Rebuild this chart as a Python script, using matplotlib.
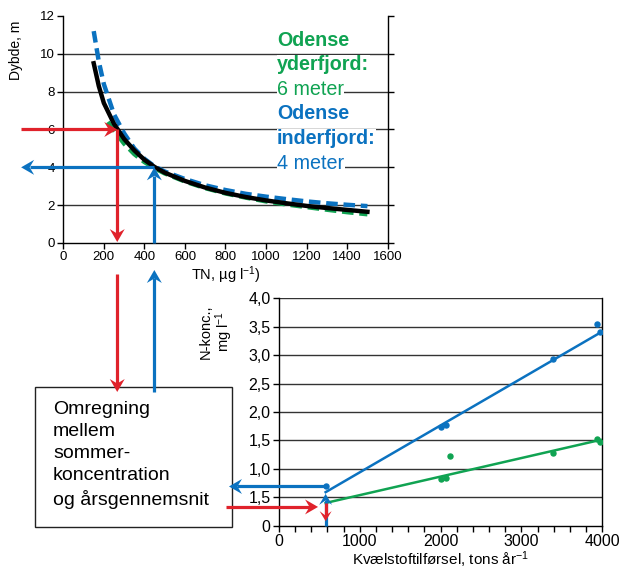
import numpy as np
import matplotlib
matplotlib.use("Agg")
import matplotlib.pyplot as plt
from matplotlib.patches import Rectangle, Polygon
from matplotlib.lines import Line2D
from matplotlib.transforms import IdentityTransform, blended_transform_factory

plt.rcParams['font.family'] = ['Liberation Sans', 'DejaVu Sans']
plt.rcParams['mathtext.fontset'] = 'custom'
plt.rcParams['mathtext.rm'] = 'Liberation Sans'
plt.rcParams['mathtext.it'] = 'Liberation Sans:italic'

RED = '#e0222b'
BLUE = '#0b72c0'
GREEN = '#10a352'

# --- Upper panel: depth vs. total nitrogen ---
tn_black = [150, 175, 200, 250, 300, 350, 400, 450, 500, 600, 700, 800, 900, 1000, 1100, 1200, 1300, 1400, 1500]
depth_black = [9.5, 8.3, 7.4, 6.3, 5.5, 4.9, 4.4, 4.02, 3.72, 3.28, 2.93, 2.65, 2.43, 2.25, 2.1, 1.96, 1.85, 1.75, 1.65]

tn_blue = [150, 175, 200, 250, 300, 350, 400, 450, 500, 600, 700, 800, 900, 1000, 1100, 1200, 1300, 1400, 1500]
depth_blue = [11.2, 9.6, 8.4, 6.8, 5.8, 5.0, 4.45, 4.05, 3.78, 3.38, 3.05, 2.8, 2.6, 2.45, 2.32, 2.2, 2.1, 2.02, 1.95]

tn_green = [220, 250, 300, 350, 400, 450, 500, 600, 700, 800, 900, 1000, 1100, 1200, 1300, 1400, 1500]
depth_green = [6.4, 5.95, 5.25, 4.7, 4.28, 3.95, 3.68, 3.25, 2.9, 2.62, 2.4, 2.2, 2.04, 1.9, 1.76, 1.63, 1.52]

outer_depth, inner_depth = 6, 4
outer_tn, inner_tn = 266, 449

# --- Lower panel: N concentration vs. nitrogen load ---
load_blue = [577, 2000, 2062, 3394, 3938, 3971]
conc_blue = [0.69, 1.74, 1.78, 2.93, 3.55, 3.40]
fit_blue_x = [577, 3980]
fit_blue_y = [0.59, 3.40]

load_green = [2000, 2062, 2111, 3394, 3938, 3971]
conc_green = [0.82, 0.84, 1.23, 1.28, 1.52, 1.47]
fit_green_x = [577, 3980]
fit_green_y = [0.40, 1.51]

ytick_vals = [0, 0.5, 1.0, 1.5, 2.0, 2.5, 3.0, 3.5, 4.0]
ytick_text = ['0', '1,5', '1,0', '1,5', '2,0', '2,5', '3,0', '3,5', '4,0']

W, H = 622, 571
fig = plt.figure(figsize=(W / 100, H / 100), dpi=100)


def fx(px):
    return px / W


def fy(py):
    return 1 - py / H


def arrow(tip, tail, color, tr_tip, tr_tail=None, head_len=13, half_w=7.5, notch=4.5, lw=2.3):
    """Line with a swept-back arrowhead, drawn in display pixels."""
    tr_tail = tr_tail or tr_tip
    p1 = np.asarray(tr_tip.transform(tip), float)
    p0 = np.asarray(tr_tail.transform(tail), float)
    d = p1 - p0
    d /= np.hypot(*d)
    n = np.array([-d[1], d[0]])
    back = p1 - d * head_len
    inner = p1 - d * (head_len - notch)
    fig.add_artist(Line2D([p0[0], inner[0]], [p0[1], inner[1]], color=color, lw=lw,
                          solid_capstyle='butt', transform=IdentityTransform(), zorder=10))
    head = [p1, back + n * half_w, inner, back - n * half_w]
    fig.add_artist(Polygon(head, closed=True, facecolor=color, edgecolor='none',
                           transform=IdentityTransform(), zorder=11))


ax1 = fig.add_axes([fx(63.3), fy(243), fx(324.4), 227 / H])
ax1.set_xlim(0, 1600)
ax1.set_ylim(0, 12)
for y in [2, 4, 6, 8, 10]:
    ax1.axhline(y, color='#333333', lw=1.0, zorder=1)
ax1.plot(tn_green, depth_green, color=GREEN, lw=3.2, ls=(0, (2.6, 1.3)), zorder=3)
ax1.plot(tn_blue, depth_blue, color=BLUE, lw=3.2, ls=(0, (2.6, 1.3)), zorder=3)
ax1.plot(tn_black, depth_black, color='black', lw=3.2, zorder=4)
ax1.spines['top'].set_visible(False)
for s in ['left', 'bottom', 'right']:
    ax1.spines[s].set_linewidth(1.0)
ax1.set_xticks(range(0, 1601, 200))
ax1.set_yticks(range(0, 13, 2))
ax1.tick_params(axis='both', labelsize=9.5, length=4, width=1.0, direction='out',
                right=True, pad=2)
ax1.set_ylabel('Dybde, m', fontsize=10, labelpad=2)
ax1.yaxis.set_label_coords(-0.125, 0.85)
ax1.set_xlabel('TN, µg l$^{-1}$)', fontsize=10.5, labelpad=1)

legend_lines = [('Odense', GREEN, 'bold'), ('yderfjord:', GREEN, 'bold'),
                ('6 meter', GREEN, 'normal'), ('Odense', BLUE, 'bold'),
                ('inderfjord:', BLUE, 'bold'), ('4 meter', BLUE, 'normal')]
for i, (t, c, w) in enumerate(legend_lines):
    ax1.text(277 / W, 1 - (40 + i * 24.6) / H, t, transform=fig.transFigure,
             color=c, fontweight=w, fontsize=14.2, va='center', ha='left', zorder=2,
             bbox=dict(facecolor='white', edgecolor='none', pad=0.3))

mixed = blended_transform_factory(ax1.transData, fig.transFigure)

# arrows in upper panel
arrow((outer_tn, outer_depth), (-208, outer_depth), RED, ax1.transData)
arrow((outer_tn, 0.05), (outer_tn, outer_depth), RED, ax1.transData)
arrow((inner_tn, inner_depth), (inner_tn, 0), BLUE, ax1.transData)
arrow((-208, inner_depth), (inner_tn, inner_depth), BLUE, ax1.transData)

# arrows between panel and conversion box
arrow((outer_tn, fy(392)), (outer_tn, fy(274)), RED, mixed)
arrow((inner_tn, fy(270)), (inner_tn, fy(392)), BLUE, mixed)

# conversion box
fig.patches.append(Rectangle((fx(35), fy(527)), fx(197), 140 / H, transform=fig.transFigure,
                             facecolor='white', edgecolor='#222222', lw=1.0))
fig.text(fx(53), fy(401), 'Omregning\nmellem\nsommer-\nkoncentration\nog årsgennemsnit',
         fontsize=14, va='top', ha='left', linespacing=1.38)

ax2 = fig.add_axes([fx(279), fy(525.7), fx(323.3), 227.4 / H])
ax2.set_xlim(0, 4000)
ax2.set_ylim(0, 4)
for y in ytick_vals[1:]:
    ax2.axhline(y, color='#333333', lw=1.0, zorder=1)
ax2.plot(fit_blue_x, fit_blue_y, color=BLUE, lw=1.8, zorder=3)
ax2.plot(fit_green_x, fit_green_y, color=GREEN, lw=1.8, zorder=3)
ax2.plot(load_blue, conc_blue, 'o', color=BLUE, ms=3.6, zorder=4)
ax2.plot(load_green, conc_green, 'o', color=GREEN, ms=3.6, zorder=4)
ax2.spines['top'].set_visible(False)
for s in ['left', 'bottom', 'right']:
    ax2.spines[s].set_linewidth(1.0)
ax2.set_xticks([0, 1000, 2000, 3000, 4000])
ax2.set_xticks(range(0, 4001, 200), minor=True)
ax2.set_yticks(ytick_vals)
ax2.set_yticklabels(ytick_text)
ax2.tick_params(axis='both', labelsize=11.5, length=4, width=1.0, direction='out', pad=2)
ax2.tick_params(axis='x', which='minor', length=4, width=1.0)
ax2.set_xlabel('Kvælstoftilførsel, tons år$^{-1}$', fontsize=11, labelpad=0.5)
fig.text(fx(217), fy(332), 'N-konc.,\nmg l$^{-1}$', rotation=90, fontsize=10.5,
         ha='center', va='center', multialignment='center', linespacing=1.0)

# arrows in lower panel
arrow((-619, 0.69), (577, 0.69), BLUE, ax2.transData)
arrow((577, 0.56), (577, 0), BLUE, ax2.transData, head_len=11, half_w=6.5)
arrow((483, 0.33), (-650, 0.33), RED, ax2.transData)
arrow((577, 0.08), (577, 0.40), RED, ax2.transData, head_len=10, half_w=6)

fig.savefig('out.png', dpi=100)
